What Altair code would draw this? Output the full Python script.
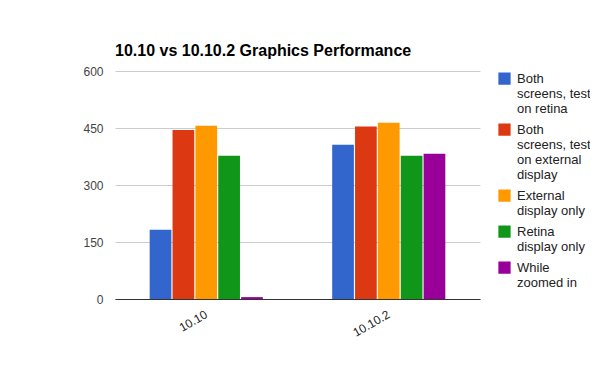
import altair as alt
import pandas as pd

versions = ["10.10", "10.10.2"]
series = [
    "Both screens, test on retina",
    "Both screens, test on external display",
    "External display only",
    "Retina display only",
    "While zoomed in",
]
colors = ["#3366cc", "#dc3912", "#ff9900", "#109618", "#990099"]
values_1010 = [182, 445, 456, 377, 5]
values_10102 = [406, 454, 464, 377, 382]

rows = []
for s, v in zip(series, values_1010):
    rows.append({"version": versions[0], "series": s, "value": v})
for s, v in zip(series, values_10102):
    rows.append({"version": versions[1], "series": s, "value": v})
df = pd.DataFrame(rows)

label_expr = (
    "datum.label == 'Both screens, test on retina' ? ['Both', 'screens, test', 'on retina'] : "
    "datum.label == 'Both screens, test on external display' ? ['Both', 'screens, test', 'on external', 'display'] : "
    "datum.label == 'External display only' ? ['External', 'display only'] : "
    "datum.label == 'Retina display only' ? ['Retina', 'display only'] : "
    "['While', 'zoomed in']"
)

chart = alt.Chart(df).mark_bar().encode(
    x=alt.X("version:N", sort=versions, title=None,
            scale=alt.Scale(paddingInner=0.38, paddingOuter=0.19),
            axis=alt.Axis(labelAngle=-30, labelAlign="right", labelBaseline="middle",
                          labelPadding=14, ticks=False, domainColor="#333333",
                          domainWidth=1, labelColor="#222222", labelFontSize=12,
                          labelFont="Liberation Sans")),
    xOffset=alt.XOffset("series:N", sort=series, scale=alt.Scale(paddingInner=0.05)),
    y=alt.Y("value:Q", title=None,
            scale=alt.Scale(domain=[0, 600]),
            axis=alt.Axis(values=[0, 150, 300, 450, 600], ticks=False, domain=False,
                          gridColor="#cccccc", labelColor="#444444", labelFontSize=12,
                          labelPadding=12, labelFont="Liberation Sans")),
    color=alt.Color("series:N", sort=series,
                    scale=alt.Scale(domain=series, range=colors),
                    legend=alt.Legend(title=None, orient="none", legendX=383, legendY=-5,
                                      symbolType="M-1,0H1V2H-1Z", symbolSize=150,
                                      symbolStrokeWidth=0, symbolOpacity=1,
                                      labelExpr=label_expr, labelFontSize=13,
                                      labelFont="Liberation Sans", labelColor="#222222",
                                      labelLimit=200, labelBaseline="top",
                                      labelOffset=6, rowPadding=1)),
).properties(
    width=365,
    height=228,
    title=alt.Title("10.10 vs 10.10.2 Graphics Performance", anchor="start",
                    frame="group",
                    font="Liberation Sans", fontSize=16, fontWeight="bold",
                    color="#000000", offset=6),
    autosize=alt.AutoSizeParams(type="none"),
    padding={"left": 107, "top": 63, "right": 110, "bottom": 60},
).configure_view(stroke=None)

chart.save("out.html", embed_options={"renderer": "svg", "actions": False})
